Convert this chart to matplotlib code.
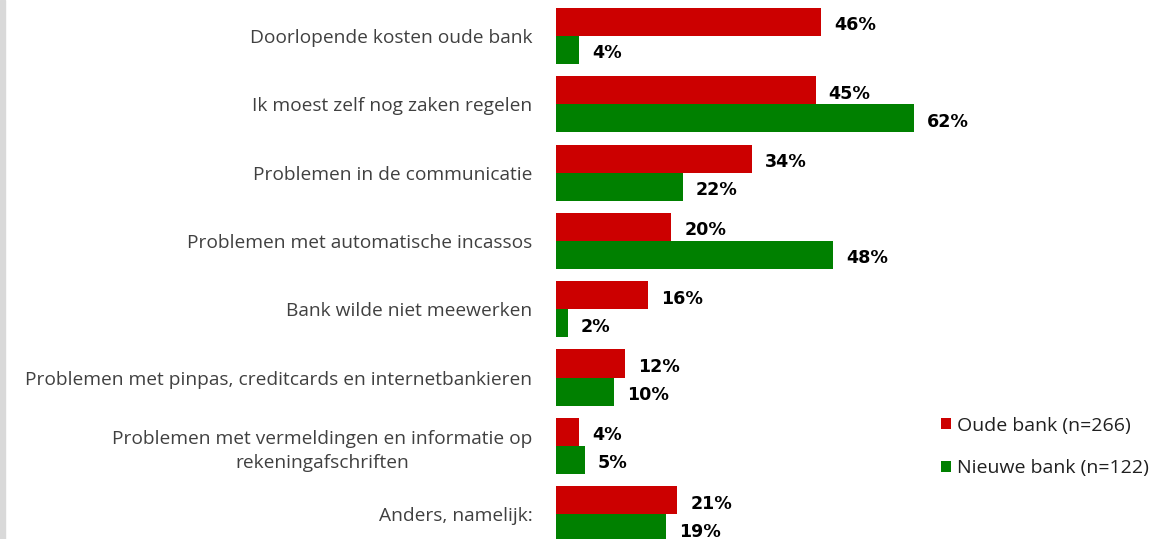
import matplotlib.pyplot as plt
import numpy as np
from matplotlib.patches import Rectangle

categories = [
    "Doorlopende kosten oude bank",
    "Ik moest zelf nog zaken regelen",
    "Problemen in de communicatie",
    "Problemen met automatische incassos",
    "Bank wilde niet meewerken",
    "Problemen met pinpas, creditcards en internetbankieren",
    "Problemen met vermeldingen en informatie op\nrekeningafschriften",
    "Anders, namelijk:",
]
oude_bank = [46, 45, 34, 20, 16, 12, 4, 21]
nieuwe_bank = [4, 62, 22, 48, 2, 10, 5, 19]
series_names = ["Oude bank (n=266)", "Nieuwe bank (n=122)"]

red = "#cc0000"
green = "#008000"

W, H = 1155, 539
fig = plt.figure(figsize=(W / 100, H / 100), dpi=100)
plt.rcParams["font.family"] = ["Open Sans", "DejaVu Sans"]

ax = fig.add_axes([556 / W, 0, 1 - 556 / W, 1])
px_per_pct = 5.77
ax.set_xlim(0, (W - 556) / px_per_pct)
row_px = 68.3
ax.set_ylim((H - 36) / row_px, -36 / row_px)

y = np.arange(len(categories))
h = 0.41
b1 = ax.barh(y - h / 2, oude_bank, height=h, color=red, label=series_names[0])
b2 = ax.barh(y + h / 2, nieuwe_bank, height=h, color=green, label=series_names[1])

for bars, vals in [(b1, oude_bank), (b2, nieuwe_bank)]:
    for bar, v in zip(bars, vals):
        ax.text(bar.get_width() + 13 / px_per_pct, bar.get_y() + bar.get_height() / 2 + 0.05,
                f"{v}%", va="center", ha="left", fontsize=12.6, fontweight="bold",
                color="black", family="DejaVu Sans")

ax.set_yticks(y)
ax.set_yticklabels(categories, fontsize=13.8, color="#404040",
                   multialignment="center", linespacing=1.45)
ax.tick_params(axis="y", length=0, pad=17)
ax.set_xticks([])
for s in ax.spines.values():
    s.set_visible(False)

leg = fig.legend(handles=[b1, b2], labels=series_names, loc="upper left",
                 bbox_to_anchor=(923 / W, 1 - 399 / H), frameon=False, fontsize=14,
                 handlelength=0.55, handleheight=0.55, handletextpad=0.3, labelspacing=1.28)
for t in leg.get_texts():
    t.set_color("#202020")

fig.patches.append(Rectangle((0, 0), 5 / W, 1, transform=fig.transFigure,
                             color="#d9d9d9", zorder=-1))

fig.savefig("out.png", dpi=100)
